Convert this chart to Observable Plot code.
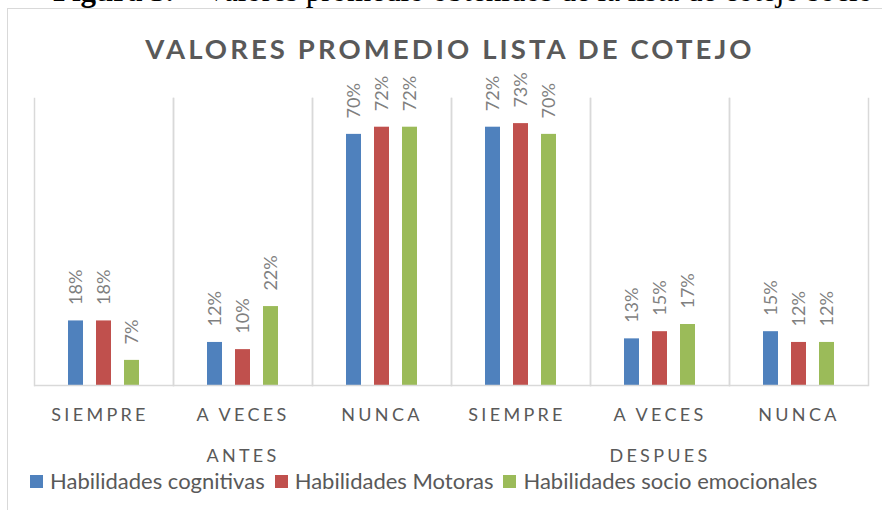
<!DOCTYPE html>
<html>
<head>
<meta charset="utf-8">
<script src="https://cdn.jsdelivr.net/npm/d3@7"></script>
<script src="https://cdn.jsdelivr.net/npm/@observablehq/plot@0.6"></script>
<style>
  html, body { margin: 0; padding: 0; background: #ffffff; }
  #wrap { position: relative; width: 882px; height: 510px; overflow: hidden; background: #fff; }
  .top { position: absolute; top: -25px; white-space: nowrap; font-family: "Liberation Serif", serif; font-size: 31px; line-height: 31px; color: #000; }
  #border { position: absolute; left: 7px; top: 8px; width: 900px; height: 540px; border: 1px solid #d9d9d9; box-sizing: border-box; }
  #title { position: absolute; left: 0; width: 900px; top: 35px; text-align: center; font-family: Lato, sans-serif; font-weight: 700; font-size: 27.5px; line-height: 27px; letter-spacing: 3.1px; color: #595959; }
  #chart { position: absolute; left: 0; top: 0; }
  #legend { position: absolute; left: 30px; top: 469px; display: flex; align-items: center; font-family: Lato, sans-serif; font-size: 22px; line-height: 24px; color: #595959; white-space: nowrap; }
  #legend .item { display: flex; align-items: center; margin-right: 10px; }
  #legend .sw { width: 13px; height: 13px; margin-right: 7px; }
  g[aria-description="cat"] text, g[aria-description="grp"] text { letter-spacing: 3.3px; }
</style>
</head>
<body>
<div id="wrap">
  <div id="border"></div>
  <div class="top" style="left:53px"><b>Figura 3.</b></div>
  <div class="top" style="left:205px">Valores promedio obtenidos de la lista de cotejo socio emocionales</div>
  <div id="title">VALORES PROMEDIO LISTA DE COTEJO</div>
  <div id="chart"></div>
  <div id="legend"></div>
</div>
<script>
// ---- data ----
const grupos = ["ANTES", "DESPUES"];
const categorias = ["SIEMPRE", "A VECES", "NUNCA"];
const series = ["Habilidades cognitivas", "Habilidades Motoras", "Habilidades socio emocionales"];
const colores = ["#4f81bd", "#c0504d", "#9bbb59"];
// values per (grupo, categoria): ANTES SIEMPRE, ANTES A VECES, ANTES NUNCA, DESPUES SIEMPRE, DESPUES A VECES, DESPUES NUNCA
const cognitivas = [0.18, 0.12, 0.70, 0.72, 0.13, 0.15];
const motoras    = [0.18, 0.10, 0.72, 0.73, 0.15, 0.12];
const socio      = [0.07, 0.22, 0.72, 0.70, 0.17, 0.12];
const valoresPorSerie = [cognitivas, motoras, socio];

// ---- build table ----
const cats = [];
grupos.forEach(g => categorias.forEach(c => cats.push({grupo: g, categoria: c, key: g + "|" + c})));
const keys = cats.map(d => d.key);
const rows = [];
series.forEach((s, si) => cats.forEach((c, ci) => rows.push({...c, serie: s, valor: valoresPorSerie[si][ci]})));

const W = 882, H = 470, mL = 34, mR = 14, mT = 98, mB = 85;
const bw = (W - mL - mR) / keys.length;
const groupLabelKeys = grupos.map(g => g + "|" + categorias[1]);
const groupStartKeys = grupos.map(g => g + "|" + categorias[0]);
const lastKey = keys[keys.length - 1];
const grid = "#d9d9d9";

const chart = Plot.plot({
  width: W, height: H,
  marginLeft: mL, marginRight: mR, marginTop: mT, marginBottom: mB,
  fx: {domain: keys, padding: 0, axis: null},
  x: {domain: series, paddingInner: 0.47, paddingOuter: 1.16, axis: null},
  y: {domain: [0, 0.8], axis: null},
  color: {domain: series, range: colores},
  style: {fontFamily: "Lato, sans-serif", overflow: "visible"},
  marks: [
    Plot.frame({anchor: "left", stroke: grid, strokeWidth: 1.5}),
    Plot.frame({anchor: "right", stroke: grid, strokeWidth: 1.5}),
    Plot.ruleX(groupStartKeys.map(k => ({key: k})), {fx: "key", dx: -bw / 2, stroke: grid, strokeWidth: 1.5, insetBottom: -83}),
    Plot.ruleX([{key: lastKey}], {fx: "key", dx: bw / 2, stroke: grid, strokeWidth: 1.5, insetBottom: -83}),
    Plot.barY(rows, {fx: "key", x: "serie", y: "valor", fill: "serie"}),
    Plot.ruleY([0], {stroke: grid, strokeWidth: 1.5}),
    Plot.text(rows, {fx: "key", x: "serie", y: "valor", text: d => Math.round(d.valor * 100) + "%",
      rotate: -90, textAnchor: "start", dy: -16, fill: "#7f7f7f", fontSize: 18}),
    Plot.text(cats, {fx: "key", text: d => d.categoria + (d.categoria === "SIEMPRE" ? "\u00A0" : ""),
      frameAnchor: "bottom", lineAnchor: "bottom", dy: 35, fill: "#595959", fontSize: 18, ariaDescription: "cat"}),
    Plot.text(groupLabelKeys.map((k, i) => ({key: k, grupo: grupos[i]})), {fx: "key", text: "grupo",
      frameAnchor: "bottom", lineAnchor: "bottom", dy: 76, fill: "#595959", fontSize: 18, ariaDescription: "grp"})
  ]
});
document.getElementById("chart").appendChild(chart);

// legend
const legend = document.getElementById("legend");
series.forEach((s, i) => {
  const item = document.createElement("div");
  item.className = "item";
  const sw = document.createElement("div");
  sw.className = "sw";
  sw.style.background = colores[i];
  const t = document.createElement("span");
  t.textContent = s;
  item.appendChild(sw); item.appendChild(t);
  legend.appendChild(item);
});
</script>
</body>
</html>
